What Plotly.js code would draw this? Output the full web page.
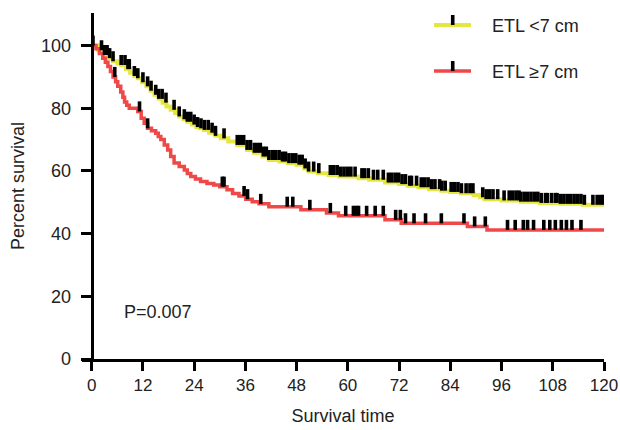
<!DOCTYPE html>
<html><head><meta charset="utf-8">
<script src="https://cdn.plot.ly/plotly-3.0.1.min.js"></script>
<style>html,body{margin:0;padding:0;background:#fff}#chart{width:620px;height:430px}</style>
</head><body><div id="chart"></div>
<script>
// ---- data ----
const seriesNames = ['ETL <7 cm', 'ETL \u22657 cm'];

const yelTime = [0, 1.5, 3, 4, 5, 6, 6.9, 8, 9, 10, 10.8, 11.8, 12.8, 13.8, 14.7, 15.7, 16.6, 17.5, 18.5, 19.5, 20.5, 21.5, 22.4, 23.5, 24.5, 25.3, 26.3, 27.5, 29, 30.2, 32, 34.1, 36.4, 38, 40, 41.5, 44, 46, 48, 49.8, 50.8, 53, 55.5, 58, 62.5, 65, 68.7, 72, 74, 76.5, 79, 81.9, 84, 86.5, 89.5, 91, 92, 96, 100.5, 105, 109.8, 115, 120];
const yelSurv = [100, 98.5, 97, 96, 95, 94.3, 93.8, 92.5, 91.3, 90.3, 89.6, 88.3, 87, 85.6, 84.3, 83, 81.8, 80.6, 79.5, 78.5, 77.4, 76.5, 75.7, 74.8, 74, 73.6, 73.1, 72.2, 71.2, 70.4, 69.4, 68.3, 66.7, 65.8, 64.6, 63.5, 63, 62.5, 62, 60.8, 59.8, 59.3, 58.7, 58.2, 57.7, 57.2, 56.3, 55.8, 55.3, 54.8, 54.2, 53.7, 53.3, 52.9, 52.3, 51.6, 51, 50.6, 50.2, 49.8, 49.5, 49.2, 49];

const redTime = [0, 1, 1.8, 2.6, 3.2, 3.8, 4.4, 5.0, 5.6, 6.1, 6.8, 7.3, 7.7, 8.2, 8.8, 10.8, 11.6, 12.3, 13.1, 14.0, 15.0, 15.6, 16.2, 17.0, 17.8, 18.5, 19.3, 20.5, 21.7, 22.4, 23.2, 24.3, 25.5, 27.0, 28.6, 30.0, 31.7, 33.0, 34.5, 36.1, 37.6, 39.2, 41.5, 49.0, 55.0, 57.8, 68.7, 72.5, 88.0, 92.6, 120];
const redSurv = [100, 99, 97.5, 96, 94.7, 93.3, 91.7, 90, 88.5, 87, 85.2, 83.5, 82, 81, 80, 79, 76.8, 75.2, 73.6, 72.8, 72, 71, 70, 68.3, 66.7, 64.6, 62.5, 61.4, 60.3, 59.2, 58.2, 57.4, 56.6, 56, 55.5, 55, 54, 52.8, 52, 51, 50.2, 49.5, 48.6, 47.6, 46.6, 45.7, 44.4, 43.3, 42.3, 41.2, 41.2];

const yelCensor = [0.3, 2.3, 3.0, 3.6, 4.2, 5, 6.9, 7.8, 8.5, 8.8, 10, 10.8, 12, 13.1, 13.9, 15, 15.7, 16.5, 17.4, 19.3, 20.5, 21.7, 22.4, 23.2, 24, 24.8, 25.6, 26.4, 27.3, 28.2, 29, 31, 34.1, 34.8, 35.6, 36.4, 37.2, 38.1, 38.8, 39.5, 40.2, 40.9, 41.5, 42.3, 43.1, 43.9, 44.7, 45.4, 46.2, 47, 47.8, 48.6, 49.3, 50, 50.8, 52, 53.2, 55.9, 56.7, 57.5, 58.3, 59.1, 59.9, 60.7, 61.7, 63.3, 63.9, 64.8, 66, 67, 68.3, 69.5, 70.3, 71.1, 71.9, 72.7, 73.5, 74.5, 74.9, 76.1, 77.2, 78, 78.8, 79.6, 80.4, 81.5, 82, 82.8, 84.2, 85, 85.8, 86.6, 87.7, 88.6, 89.3, 91.6, 92.4, 93.2, 94, 95.1, 96.6, 97.8, 98.6, 99.4, 100.1, 100.5, 101.3, 102.1, 102.9, 103.7, 104.5, 105.3, 106.3, 106.7, 107.7, 108.6, 109, 109.8, 110.6, 111.4, 112.2, 113, 113.8, 114.6, 115.4, 117.4, 118.4, 119.2, 119.8];
const redCensor = [5.4, 11.2, 13.1, 30.6, 31.0, 35.7, 36.5, 39.6, 45.8, 47.1, 51.1, 55.9, 59.5, 61.3, 62.0, 62.5, 64.4, 66.4, 68.3, 71.2, 72.3, 73.5, 75.5, 78.2, 81.9, 87.2, 89.7, 92.2, 97.4, 99.2, 101.1, 102.1, 103.5, 105.9, 107.3, 108.6, 110, 111.2, 112.5, 114.6];

const xTicks = [0, 12, 24, 36, 48, 60, 72, 84, 96, 108, 120];
const yTicks = [0, 20, 40, 60, 80, 100];
const pLabel = 'P=0.007';

// ---- helpers ----
function survAt(times, surv, t) {
  let v = surv[0];
  for (let i = 0; i < times.length; i++) { if (times[i] <= t) v = surv[i]; else break; }
  return v;
}
const YEL = '#e6e640', RED = '#ef4848';
const TICK_H = 3.2;

function censorTrace(times, surv, cens) {
  return {
    x: cens, y: cens.map(t => survAt(times, surv, t)),
    type: 'scatter', mode: 'markers', hoverinfo: 'skip', showlegend: false,
    marker: {size: 1, color: 'rgba(0,0,0,0)'},
    error_y: {type: 'data', symmetric: false, array: cens.map(() => TICK_H), arrayminus: cens.map(() => 0),
              width: 0, thickness: 3.6, color: '#000'}
  };
}

const traces = [
  {x: yelTime, y: yelSurv, type: 'scatter', mode: 'lines', line: {shape: 'hv', color: YEL, width: 4}, name: seriesNames[0], hoverinfo: 'skip'},
  {x: redTime, y: redSurv, type: 'scatter', mode: 'lines', line: {shape: 'hv', color: RED, width: 3.5}, name: seriesNames[1], hoverinfo: 'skip'},
  censorTrace(yelTime, yelSurv, yelCensor),
  censorTrace(redTime, redSurv, redCensor)
];

const X0 = -2.27;
const layout = {
  width: 620, height: 430,
  margin: {l: 82, r: 16, t: 13, b: 71, pad: 0},
  paper_bgcolor: '#fff', plot_bgcolor: '#fff', showlegend: false,
  font: {family: 'Liberation Sans, Arial, sans-serif', size: 18, color: '#222'},
  xaxis: {
    range: [X0, 120], tickvals: xTicks, ticktext: xTicks.map(String),
    ticks: 'outside', ticklen: 9, tickwidth: 3, tickcolor: '#000',
    showline: true, linewidth: 3, linecolor: '#000', showgrid: false, zeroline: false,
    ticklabelstandoff: 0, ticklabeloverflow: 'allow', tickfont: {size: 17},
    title: {text: 'Survival time', standoff: 15, font: {size: 18}}
  },
  yaxis: {
    range: [0, 110.4], anchor: 'free', position: -X0 / (120 - X0), tickvals: yTicks, ticktext: yTicks.map(String),
    ticks: 'outside', ticklen: 10, tickwidth: 3, tickcolor: '#000',
    showline: true, linewidth: 3, linecolor: '#000', showgrid: false, zeroline: false,
    ticklabelstandoff: 6,
    title: {text: 'Percent survival', standoff: 10, font: {size: 18}}
  },
  shapes: [
    {type: 'line', xref: 'paper', yref: 'paper', x0: 0.6743, x1: 0.7452, y0: 0.9653, y1: 0.9653, line: {color: YEL, width: 4}},
    {type: 'line', xref: 'paper', yref: 'paper', x0: 0.7102, x1: 0.7102, y0: 0.9653, y1: 0.9942, line: {color: '#000', width: 3.6}},
    {type: 'line', xref: 'paper', yref: 'paper', x0: 0.6743, x1: 0.7452, y0: 0.8324, y1: 0.8324, line: {color: RED, width: 3.5}},
    {type: 'line', xref: 'paper', yref: 'paper', x0: 0.7102, x1: 0.7102, y0: 0.8324, y1: 0.8613, line: {color: '#000', width: 3.6}}
  ],
  annotations: [
    {xref: 'paper', yref: 'paper', x: 0.7816, y: 0.9624, xanchor: 'left', yanchor: 'middle', text: seriesNames[0], showarrow: false, font: {size: 18}},
    {xref: 'paper', yref: 'paper', x: 0.7816, y: 0.8295, xanchor: 'left', yanchor: 'middle', text: seriesNames[1], showarrow: false, font: {size: 18}},
    {xref: 'paper', yref: 'paper', x: 0.0761, y: 0.1358, xanchor: 'left', yanchor: 'middle', text: pLabel, showarrow: false, font: {size: 18}}
  ]
};

Plotly.newPlot('chart', traces, layout, {staticPlot: true, displayModeBar: false});
</script>
</body></html>
